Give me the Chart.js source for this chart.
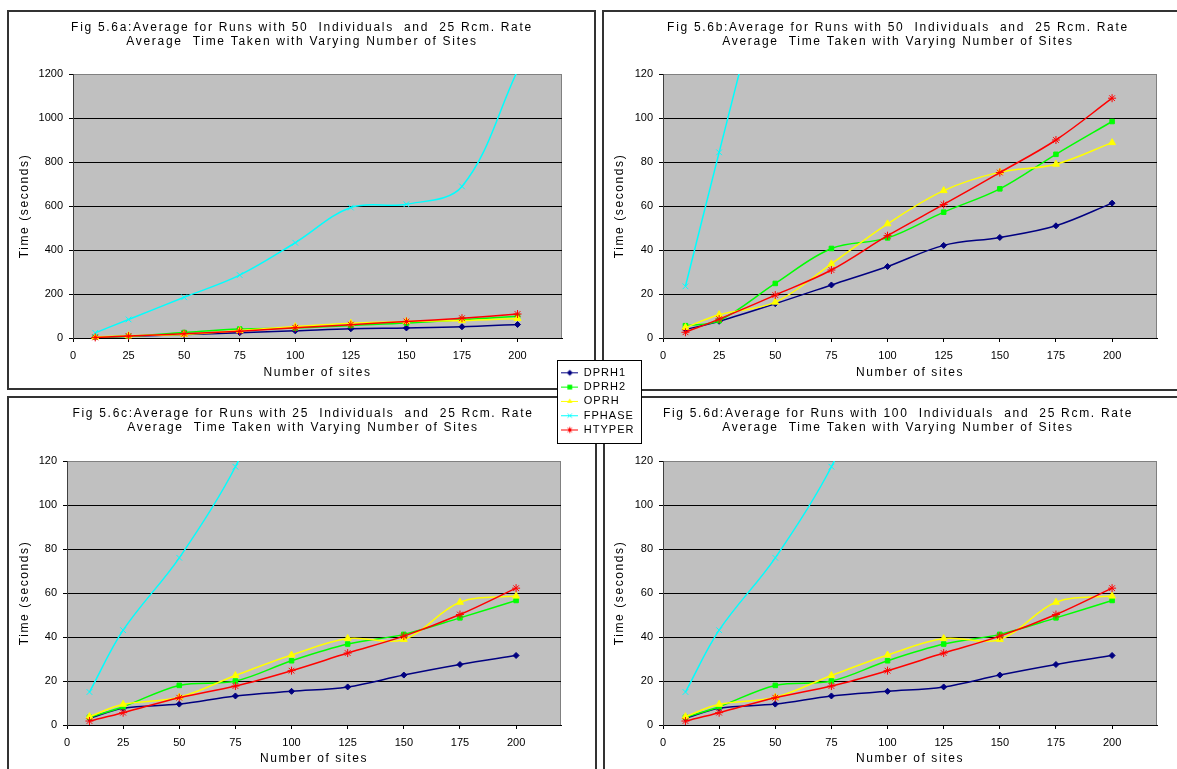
<!DOCTYPE html>
<html>
<head>
<meta charset="utf-8">
<script src="https://cdn.jsdelivr.net/npm/chart.js"></script>
<style>
  html, body { margin: 0; padding: 0; background: #fff; width: 1177px; height: 769px; overflow: hidden; }
  .frame { position: absolute; border: 2px solid #333; box-sizing: border-box; }
  canvas.panel { position: absolute; }
  #legendBox { position: absolute; left: 557px; top: 360px; width: 85px; height: 84px; box-sizing: border-box;
               border: 1px solid #000; background: #fff; z-index: 10; }
  #legendBox canvas { position: absolute; left: 0px; top: 3px; }
</style>
</head>
<body>
<div class="frame" style="left:7px;top:10px;width:589px;height:380px;"></div>
<div class="frame" style="left:602px;top:10px;width:600px;height:381px;"></div>
<div class="frame" style="left:7px;top:396px;width:590px;height:400px;"></div>
<div class="frame" style="left:603px;top:396px;width:600px;height:400px;"></div>

<canvas id="cA" class="panel" width="586" height="376" style="left:9px;top:12px;"></canvas>
<canvas id="cB" class="panel" width="588" height="376" style="left:604px;top:12px;"></canvas>
<canvas id="cC" class="panel" width="588" height="376" style="left:9px;top:398px;"></canvas>
<canvas id="cD" class="panel" width="588" height="376" style="left:604px;top:398px;"></canvas>

<div id="legendBox"><canvas id="cL" width="82" height="78"></canvas></div>

<script>
// ---------------- DATA ----------------
const seriesNames = ['DPRH1', 'DPRH2', 'OPRH', 'FPHASE', 'HTYPER'];
const sites = [10, 25, 50, 75, 100, 125, 150, 175, 200];
const xTicks = [0, 25, 50, 75, 100, 125, 150, 175, 200];
const yTicksBig = [0, 200, 400, 600, 800, 1000, 1200];
const yTicksSmall = [0, 20, 40, 60, 80, 100, 120];

// 50 individuals (Fig 5.6a and 5.6b)
const dprh1_50  = [3.8, 7.6, 15.6, 24.1, 32.5, 42.1, 45.7, 51.0, 61.3];
const dprh2_50  = [5.6, 7.9, 24.8, 40.7, 45.5, 57.2, 67.8, 83.5, 98.4];
const oprh_50   = [4.8, 10.6, 16.3, 33.7, 51.9, 67.0, 75.4, 79.0, 88.8];
const fphase_50 = [23.5, 84.4, 185, 286, 433, 593, 608, 689, 1215];
const htyper_50 = [2.6, 8.6, 19.5, 30.9, 46.5, 60.7, 75.2, 90.0, 109.0];

// 25 individuals (Fig 5.6c)
const dprh1_25  = [3.0, 7.6, 9.5, 13.2, 15.3, 17.3, 22.7, 27.5, 31.6];
const dprh2_25  = [3.5, 8.3, 18.0, 20.0, 29.2, 36.8, 41.2, 48.7, 56.6];
const oprh_25   = [3.8, 9.4, 12.6, 22.5, 31.8, 39.3, 38.9, 55.8, 58.6];
const fphase_25 = [15.0, 43.1, 76.0, 117.4, 175, null, null, null, null];
const htyper_25 = [1.8, 5.6, 12.4, 17.7, 24.7, 32.7, 40.4, 50.2, 62.2];

// 100 individuals (Fig 5.6d)
const dprh1_100  = [3.0, 7.6, 9.5, 13.2, 15.3, 17.3, 22.7, 27.5, 31.6];
const dprh2_100  = [3.5, 8.3, 18.0, 20.0, 29.2, 36.8, 41.2, 48.7, 56.6];
const oprh_100   = [3.8, 9.4, 12.6, 22.5, 31.8, 39.3, 38.9, 55.8, 58.6];
const fphase_100 = [15.0, 43.1, 76.0, 117.4, 175, null, null, null, null];
const htyper_100 = [1.8, 5.6, 12.4, 17.7, 24.7, 32.7, 40.4, 50.2, 62.2];

const titleA = ['Fig 5.6a:Average for Runs with 50  Individuals  and  25 Rcm. Rate', 'Average  Time Taken with Varying Number of Sites'];
const titleB = ['Fig 5.6b:Average for Runs with 50  Individuals  and  25 Rcm. Rate', 'Average  Time Taken with Varying Number of Sites'];
const titleC = ['Fig 5.6c:Average for Runs with 25  Individuals  and  25 Rcm. Rate', 'Average  Time Taken with Varying Number of Sites'];
const titleD = ['Fig 5.6d:Average for Runs with 100  Individuals  and  25 Rcm. Rate', 'Average  Time Taken with Varying Number of Sites'];
const xTitle = 'Number of sites';
const yTitle = 'Time (seconds)';

// ---------------- STYLE ----------------
const FONT = "'Liberation Sans', Arial, sans-serif";
const seriesStyle = [
  { color: '#000080', point: 'rectRot',  radius: 3 },
  { color: '#00FF00', point: 'rect',     radius: 3.2 },
  { color: '#FFFF00', point: 'triangle', radius: 4 },
  { color: '#00FFFF', point: 'crossRot', radius: 4 },
  { color: '#FF0000', point: 'star',     radius: 4 }
];

const spacingPlugin = {
  id: 'spacing',
  afterLayout(chart) {
    const wrap = (obj, fn, sp) => {
      if (!obj || obj['_sp_' + fn] || typeof obj[fn] !== 'function') return;
      const orig = obj[fn];
      obj[fn] = function (...args) {
        const ctx = chart.ctx;
        const prev = ctx.letterSpacing;
        ctx.letterSpacing = sp;
        try { return orig.apply(this, args); } finally { ctx.letterSpacing = prev === undefined ? '0px' : prev; }
      };
      obj['_sp_' + fn] = true;
    };
    wrap(chart.titleBlock, 'draw', '1.7px');
    Object.values(chart.scales).forEach(s => wrap(s, 'drawTitle', '1.6px'));
    wrap(chart.legend, 'draw', '1px');
  }
};

const plotBg = {
  id: 'plotBg',
  beforeDraw(chart) {
    const { ctx, chartArea: { left, top, right, bottom } } = chart;
    ctx.save();
    ctx.fillStyle = '#C0C0C0';
    ctx.fillRect(left, top, right - left, bottom - top);
    ctx.strokeStyle = '#808080';
    ctx.lineWidth = 1;
    ctx.strokeRect(left + 0.5, top + 0.5, right - left - 1, bottom - top);
    ctx.restore();
  }
};

function makeDatasets(arrays) {
  return arrays.map((arr, i) => ({
    label: seriesNames[i],
    data: sites.map((x, j) => ({ x: x, y: arr[j] })),
    borderColor: seriesStyle[i].color,
    backgroundColor: seriesStyle[i].color,
    pointBackgroundColor: seriesStyle[i].color,
    pointBorderColor: seriesStyle[i].color,
    pointStyle: seriesStyle[i].point,
    pointRadius: seriesStyle[i].radius,
    pointBorderWidth: 1,
    borderWidth: 1.5,
    tension: 0.35,
    spanGaps: false,
    order: arrays.length - i,
    clip: { left: 6, top: 0, right: 6, bottom: 6 }
  }));
}

function makePanel(canvasId, geo, title, yTicks, arrays) {
  const yMax = yTicks[yTicks.length - 1];
  return new Chart(document.getElementById(canvasId), {
    type: 'line',
    data: { datasets: makeDatasets(arrays) },
    plugins: [plotBg, spacingPlugin],
    options: {
      responsive: false,
      animation: false,
      devicePixelRatio: 1,
      events: [],
      layout: { padding: 0 },
      plugins: {
        legend: { display: false },
        tooltip: { enabled: false },
        title: {
          display: true,
          text: title,
          color: '#000',
          font: { family: FONT, size: 12, weight: 'normal', lineHeight: '14px' },
          padding: { top: 9, bottom: geo.ct - 9 - 28 }
        }
      },
      scales: {
        x: {
          type: 'linear',
          min: 0,
          max: 220,
          afterBuildTicks: s => { s.ticks = xTicks.map(v => ({ value: v })); },
          afterFit: s => { s.height = geo.h - geo.cb; },
          grid: { display: true, drawOnChartArea: false, drawTicks: true, tickLength: 4, tickColor: '#000', color: '#000', lineWidth: 1 },
          border: { display: true, color: '#000', width: 1 },
          ticks: { color: '#000', font: { family: FONT, size: 11 }, padding: 7, maxRotation: 0, autoSkip: false, callback: v => String(v) },
          title: { display: true, text: xTitle, color: '#000', font: { family: FONT, size: 12, lineHeight: '14px' }, padding: { top: 0, bottom: 8 } }
        },
        y: {
          type: 'linear',
          position: 'left',
          min: 0,
          max: yMax,
          afterBuildTicks: s => { s.ticks = yTicks.map(v => ({ value: v })); },
          afterFit: s => { s.width = geo.cl; },
          grid: {
            drawTicks: true, tickLength: 4, tickColor: '#000', lineWidth: 1,
            color: c => (c.tick && c.tick.value === yMax) ? '#808080' : '#000'
          },
          border: { display: true, color: '#404040', width: 1 },
          ticks: { color: '#000', font: { family: FONT, size: 11 }, padding: 6, autoSkip: false, callback: v => String(v) },
          title: { display: true, text: yTitle, color: '#000', font: { family: FONT, size: 12, lineHeight: '14px' }, padding: { top: 9, bottom: 0 } }
        },
        yR: {
          type: 'linear',
          position: 'right',
          display: true,
          grid: { display: false },
          border: { display: false },
          ticks: { display: false },
          title: { display: false },
          afterFit: s => { s.width = geo.w - geo.cr; }
        }
      }
    }
  });
}

makePanel('cA', { w: 586, h: 376, cl: 64, ct: 62, cr: 553, cb: 326 }, titleA, yTicksBig,
  [dprh1_50, dprh2_50, oprh_50, fphase_50, htyper_50]);
makePanel('cB', { w: 588, h: 376, cl: 59, ct: 62, cr: 553, cb: 326 }, titleB, yTicksSmall,
  [dprh1_50, dprh2_50, oprh_50, fphase_50, htyper_50]);
makePanel('cC', { w: 588, h: 376, cl: 58, ct: 63, cr: 552, cb: 327 }, titleC, yTicksSmall,
  [dprh1_25, dprh2_25, oprh_25, fphase_25, htyper_25]);
makePanel('cD', { w: 588, h: 376, cl: 59, ct: 63, cr: 553, cb: 327 }, titleD, yTicksSmall,
  [dprh1_100, dprh2_100, oprh_100, fphase_100, htyper_100]);

// ---------------- LEGEND ----------------
function drawMarker(ctx, style, r, x, y, color) {
  ctx.fillStyle = color; ctx.strokeStyle = color; ctx.lineWidth = 1;
  ctx.beginPath();
  if (style === 'rectRot') {
    ctx.moveTo(x, y - r); ctx.lineTo(x + r, y); ctx.lineTo(x, y + r); ctx.lineTo(x - r, y); ctx.closePath(); ctx.fill();
  } else if (style === 'rect') {
    const s = r * 0.8; ctx.rect(x - s, y - s, 2 * s, 2 * s); ctx.fill();
  } else if (style === 'triangle') {
    ctx.moveTo(x, y - r); ctx.lineTo(x + r * 0.87, y + r * 0.5); ctx.lineTo(x - r * 0.87, y + r * 0.5); ctx.closePath(); ctx.fill();
  } else if (style === 'crossRot') {
    const s = r * 0.7; ctx.moveTo(x - s, y - s); ctx.lineTo(x + s, y + s); ctx.moveTo(x + s, y - s); ctx.lineTo(x - s, y + s); ctx.stroke();
  } else {
    const s = r * 0.7; ctx.moveTo(x - s, y - s); ctx.lineTo(x + s, y + s); ctx.moveTo(x + s, y - s); ctx.lineTo(x - s, y + s);
    ctx.moveTo(x, y - r); ctx.lineTo(x, y + r); ctx.stroke();
  }
}
const legendImgs = seriesStyle.map(st => {
  const c = document.createElement('canvas');
  c.width = 17; c.height = 9;
  const ctx = c.getContext('2d');
  ctx.strokeStyle = st.color; ctx.lineWidth = 1;
  ctx.beginPath(); ctx.moveTo(0, 4.5); ctx.lineTo(17, 4.5); ctx.stroke();
  drawMarker(ctx, st.point, 3, 8.5, 4.5, st.color);
  return c;
});

new Chart(document.getElementById('cL'), {
  type: 'line',
  data: { datasets: seriesNames.map((n, i) => ({ label: n, data: [], borderColor: seriesStyle[i].color })) },
  plugins: [spacingPlugin],
  options: {
    responsive: false,
    animation: false,
    devicePixelRatio: 1,
    events: [],
    layout: { padding: 0 },
    scales: { x: { display: false }, y: { display: false } },
    plugins: {
      tooltip: { enabled: false },
      title: { display: false },
      legend: {
        display: true,
        position: 'left',
        align: 'start',
        maxWidth: 200,
        labels: {
          usePointStyle: true,
          pointStyleWidth: 17,
          padding: 3.3,
          color: '#000',
          font: { family: FONT, size: 11 },
          generateLabels: () => seriesNames.map((n, i) => ({
            text: n, pointStyle: legendImgs[i], fillStyle: seriesStyle[i].color,
            strokeStyle: seriesStyle[i].color, lineWidth: 0, hidden: false, datasetIndex: i, fontColor: '#000'
          }))
        }
      }
    }
  }
});
</script>
</body>
</html>
